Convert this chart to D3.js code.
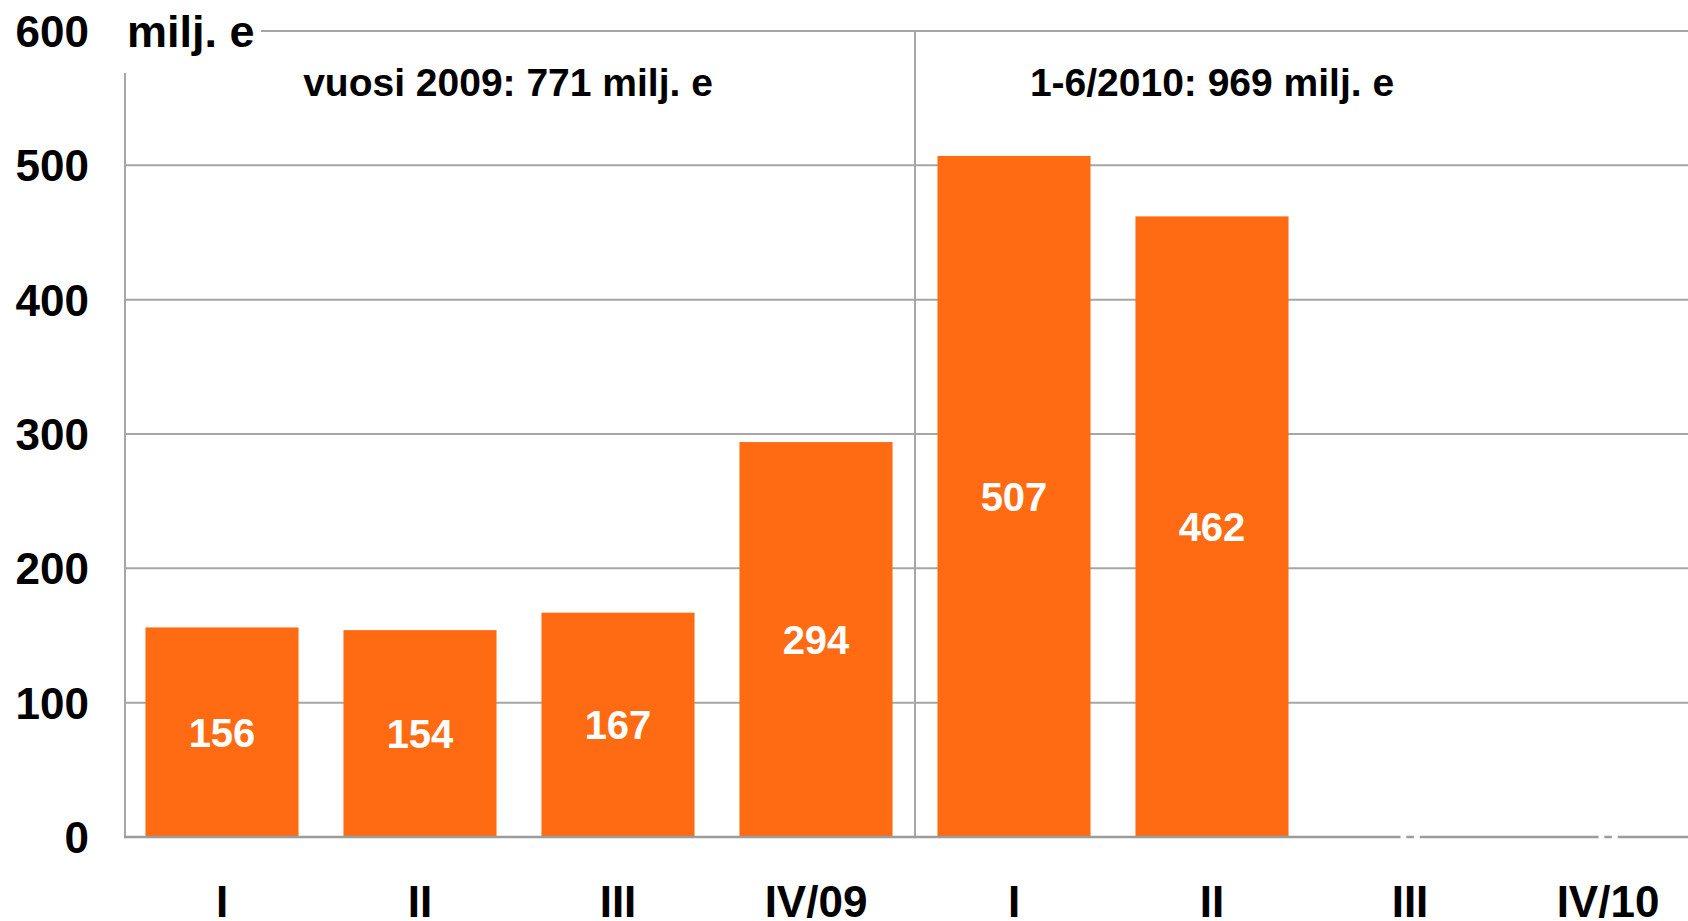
<!DOCTYPE html>
<html>
<head>
<meta charset="utf-8">
<script src="https://cdn.jsdelivr.net/npm/d3@7"></script>
<style>
  html, body { margin: 0; padding: 0; background: #fff; overflow: hidden; }
  text { font-family: "Liberation Sans", Arial, sans-serif; font-weight: bold; }
</style>
</head>
<body>
<script>
// quarters, 2009 then 2010
var quarters = ["I", "II", "III", "IV/09", "I", "II", "III", "IV/10"];
var values = [156, 154, 167, 294, 507, 462, 0, 0];
var yTicks = [0, 100, 200, 300, 400, 500, 600];
var unitLabel = "milj. e";
var notes = ["vuosi 2009: 771 milj. e", "1-6/2010: 969 milj. e"];

var w = 1688, h = 921;
var left = 125, baseY = 837, topY = 31;

var svg = d3.select("body").append("svg")
    .attr("width", w)
    .attr("height", h);

var x = d3.scaleBand()
    .domain(d3.range(quarters.length))
    .range([left - 2, left - 2 + 8 * 198])
    .paddingInner(0.227)
    .paddingOuter(0.1135);

var y = d3.scaleLinear()
    .domain([0, 600])
    .range([baseY, topY]);

// gridlines
svg.selectAll(".grid")
    .data(yTicks.filter(function (d) { return d > 0; }))
    .enter().append("line")
    .attr("class", "grid")
    .attr("x1", left).attr("x2", w)
    .attr("y1", function (d) { return y(d); })
    .attr("y2", function (d) { return y(d); })
    .attr("stroke", "#a6a6a6")
    .attr("stroke-width", 2);

// divider between years
var divX = x(4) - x.step() * x.paddingInner() / 2;
svg.append("line")
    .attr("x1", divX).attr("x2", divX)
    .attr("y1", y(600)).attr("y2", baseY)
    .attr("stroke", "#a6a6a6")
    .attr("stroke-width", 2);

// white box behind unit label
svg.append("rect")
    .attr("x", 95).attr("y", 0)
    .attr("width", 166).attr("height", 73)
    .attr("fill", "#fff");

// y axis line
svg.append("line")
    .attr("x1", left).attr("x2", left)
    .attr("y1", 73).attr("y2", baseY)
    .attr("stroke", "#a6a6a6")
    .attr("stroke-width", 2);

// bars
svg.selectAll(".bar")
    .data(values)
    .enter().append("rect")
    .attr("class", "bar")
    .attr("x", function (d, i) { return x(i); })
    .attr("width", x.bandwidth())
    .attr("y", function (d) { return y(d); })
    .attr("height", function (d) { return baseY - y(d); })
    .attr("fill", "#ff6b12");

// baseline
svg.append("line")
    .attr("x1", left - 1).attr("x2", w)
    .attr("y1", baseY).attr("y2", baseY)
    .attr("stroke", "#9c9c9c")
    .attr("stroke-width", 2.5);

// value labels in middle of bars
svg.selectAll(".val")
    .data(values)
    .enter().append("text")
    .attr("class", "val")
    .attr("x", function (d, i) { return x(i) + x.bandwidth() / 2; })
    .attr("y", function (d) { return (y(d) + baseY) / 2; })
    .attr("dy", "0.36em")
    .attr("text-anchor", "middle")
    .attr("fill", "#fff")
    .style("font-size", "40px")
    .text(function (d) { return d; });

// y tick labels
svg.selectAll(".ytick")
    .data(yTicks)
    .enter().append("text")
    .attr("class", "ytick")
    .attr("x", 89)
    .attr("y", function (d) { return y(d); })
    .attr("dy", "0.36em")
    .attr("text-anchor", "end")
    .style("font-size", "44px")
    .text(function (d) { return d; });

svg.append("text")
    .attr("x", 127)
    .attr("y", y(600))
    .attr("dy", "0.36em")
    .style("font-size", "45px")
    .text(unitLabel);

// x labels
svg.selectAll(".xlab")
    .data(quarters)
    .enter().append("text")
    .attr("class", "xlab")
    .attr("x", function (d, i) { return x(i) + x.bandwidth() / 2; })
    .attr("y", 917)
    .attr("text-anchor", "middle")
    .style("font-size", "44px")
    .text(function (d) { return d; });

// period totals
svg.append("text")
    .attr("x", 508).attr("y", 82)
    .attr("dy", "0.36em")
    .attr("text-anchor", "middle")
    .style("font-size", "39px")
    .text(notes[0]);

svg.append("text")
    .attr("x", 1212).attr("y", 82)
    .attr("dy", "0.36em")
    .attr("text-anchor", "middle")
    .style("font-size", "39px")
    .text(notes[1]);
</script>
</body>
</html>
